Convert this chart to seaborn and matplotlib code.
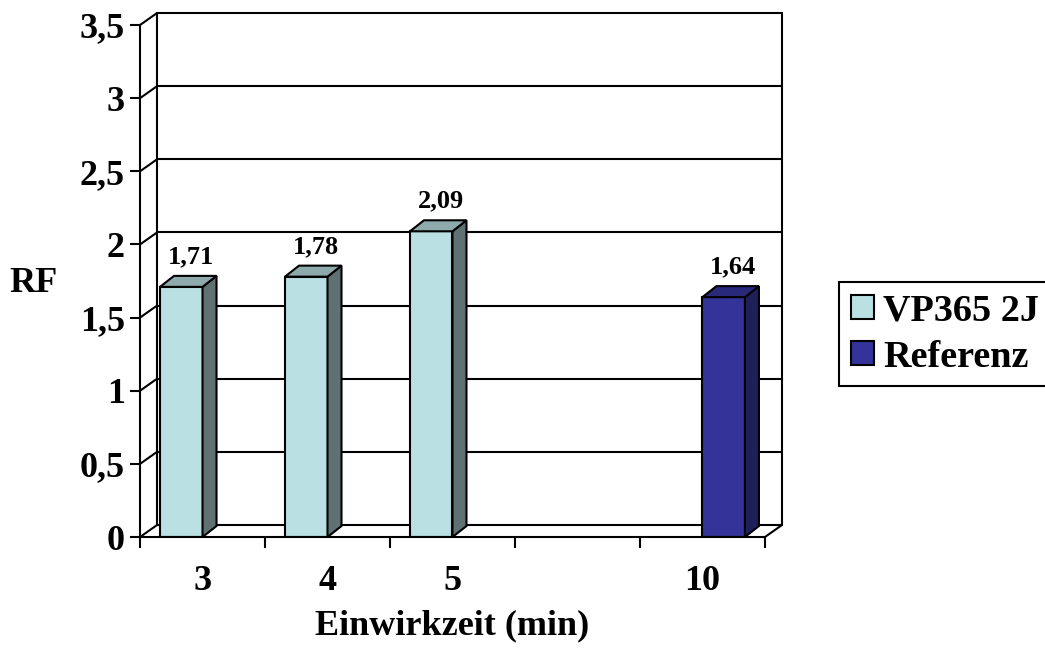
# Excel-style 3D column chart (RF vs. Einwirkzeit) redrawn with seaborn.
import numpy as np
import pandas as pd
import seaborn as sns
import matplotlib
matplotlib.use('Agg')
import matplotlib.pyplot as plt
from matplotlib.colors import to_hex
from matplotlib.patches import Patch, Polygon

categories = ["3", "4", "5", "", "10"]
series = ["VP365 2J", "Referenz"]
vp365 = [1.71, 1.78, 2.09, np.nan, np.nan]
referenz = [np.nan, np.nan, np.nan, np.nan, 1.64]
y_ticks = [0, 0.5, 1, 1.5, 2, 2.5, 3, 3.5]

front = {"VP365 2J": "#BBE0E3", "Referenz": "#333399"}
side = {"VP365 2J": "#5F7173", "Referenz": "#1F1F5A"}
top = {"VP365 2J": "#8FAAAC", "Referenz": "#29297A"}

df = pd.DataFrame({
    "Einwirkzeit": categories * 2,
    "Serie": [series[0]] * len(categories) + [series[1]] * len(categories),
    "RF": vp365 + referenz,
})

sns.set_theme(style="white")
plt.rcParams['font.family'] = ['Liberation Serif', 'DejaVu Serif']
plt.rcParams['font.weight'] = 'bold'
plt.rcParams['text.color'] = 'black'
plt.rcParams['axes.labelcolor'] = 'black'
plt.rcParams['xtick.color'] = 'black'
plt.rcParams['ytick.color'] = 'black'

fig = plt.figure(figsize=(10.45, 6.5), dpi=100)
ax = fig.add_axes([0.134, 0.1738, 0.598, 0.7877])

sns.barplot(data=df, x="Einwirkzeit", y="RF", hue="Serie", order=categories,
            hue_order=series, palette=front, width=0.68, saturation=1,
            errorbar=None, edgecolor="black", linewidth=1.5, legend=False,
            ax=ax, zorder=3)

ax.set_xlim(-0.5, len(categories) - 0.5)
ax.set_ylim(0, 3.5)

# pixel -> data conversion for the 3D offsets
p0 = ax.transData.transform((0, 0))
p1 = ax.transData.transform((1, 1))
ux, uy = p1[0] - p0[0], p1[1] - p0[1]
wdx, wdy = 17 / ux, 12 / uy   # wall depth
bdx, bdy = 14 / ux, 11 / uy   # bar depth

x0, x1 = -0.5, len(categories) - 0.5
lk = dict(color="black", lw=1.5, clip_on=False, zorder=1)
for y in y_ticks:
    ax.plot([x0 + wdx, x1 + wdx], [y + wdy, y + wdy], **lk)
    ax.plot([x0, x0 + wdx], [y, y + wdy], **lk)
ax.plot([x0 + wdx, x0 + wdx], [wdy, 3.5 + wdy], **lk)
ax.plot([x1 + wdx, x1 + wdx], [wdy, 3.5 + wdy], **lk)
ax.plot([x1, x1 + wdx], [0, wdy], **lk)

# 3D side and top faces of the bars, plus value labels
lookup = {to_hex(front[s]): s for s in series}
for p in list(ax.patches):
    h = p.get_height()
    if not np.isfinite(h) or h <= 0:
        continue
    s = lookup.get(to_hex(p.get_facecolor()))
    if s is None:
        continue
    x, w = p.get_x(), p.get_width()
    ax.add_patch(Polygon([(x + w, 0), (x + w + bdx, bdy), (x + w + bdx, h + bdy), (x + w, h)],
                         closed=True, facecolor=side[s], edgecolor="black", lw=1.5,
                         clip_on=False, zorder=3))
    ax.add_patch(Polygon([(x, h), (x + bdx, h + bdy), (x + w + bdx, h + bdy), (x + w, h)],
                         closed=True, facecolor=top[s], edgecolor="black", lw=1.5,
                         clip_on=False, zorder=3))
    ax.annotate(f"{h:.2f}".replace(".", ","), xy=(x + w / 2, h + bdy),
                xytext=(7, 9), textcoords="offset points", ha="center", va="baseline",
                fontsize=19, fontweight="bold", annotation_clip=False)

for side_name in ["top", "right"]:
    ax.spines[side_name].set_visible(False)
for side_name in ["left", "bottom"]:
    ax.spines[side_name].set_linewidth(1.5)
    ax.spines[side_name].set_color("black")
    ax.spines[side_name].set_zorder(4)

ax.set_yticks(y_ticks)
ax.set_yticklabels([f"{t:g}".replace(".", ",") for t in y_ticks])
ax.set_xticks(np.arange(x0, x1 + 0.01, 1))
ax.set_xticklabels([])
ax.set_xticks(np.arange(len(categories)), minor=True)
ax.set_xticklabels(categories, minor=True)
ax.tick_params(axis="y", which="major", direction="out", length=7, width=1.5,
               left=True, pad=4, labelsize=26)
ax.tick_params(axis="x", which="major", direction="out", length=8, width=1.5,
               bottom=True)
ax.tick_params(axis="x", which="minor", length=0, pad=20, labelsize=26)

ax.set_xlabel("Einwirkzeit (min)", fontsize=26, fontweight="bold", labelpad=8)
ax.set_ylabel("RF", fontsize=26, fontweight="bold", rotation=0, ha="center", va="center")
ax.yaxis.set_label_coords(-0.171, 0.495)

handles = [Patch(facecolor=front[s], edgecolor="black", lw=1.5) for s in series]
leg = fig.legend(handles, series, loc="center left", bbox_to_anchor=(0.803, 0.486),
                 frameon=True, fancybox=False, edgecolor="black", framealpha=1,
                 handlelength=0.6, handleheight=0.6, handletextpad=0.25,
                 borderpad=0.3, labelspacing=0.3, borderaxespad=0,
                 prop=dict(size=27.5, weight="bold"))
leg.get_frame().set_linewidth(1.5)

plt.savefig("out.png", dpi=100)
